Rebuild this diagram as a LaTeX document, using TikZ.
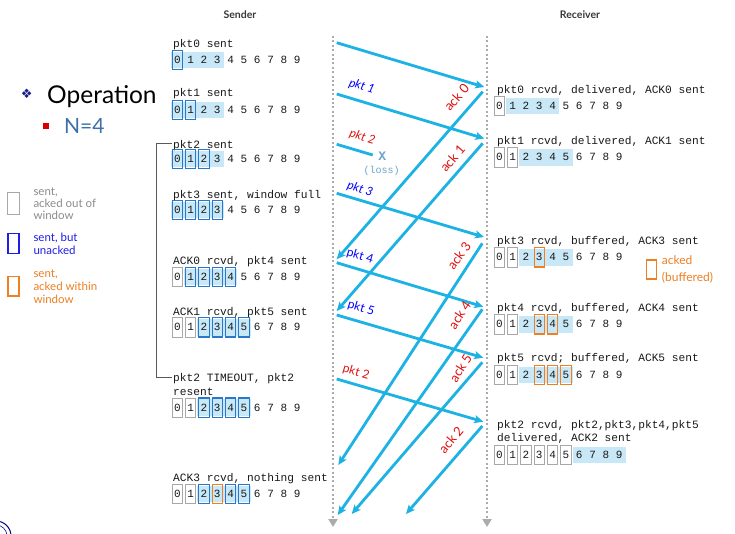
\documentclass[tikz,border=0pt]{standalone}
\usepackage{fontspec}
\setmainfont{Lato}
\newfontfamily\cour{Liberation Mono}
\newfontfamily\djv{DejaVu Sans}
\usetikzlibrary{arrows.meta}
\definecolor{arrowc}{HTML}{1CB2E3}
\definecolor{shadeb}{HTML}{C8E8F7}
\definecolor{winblue}{HTML}{2A78CC}
\definecolor{legblue}{HTML}{1E1EE6}
\definecolor{ackred}{HTML}{E01010}
\definecolor{orng}{HTML}{EE7F22}
\definecolor{grayb}{HTML}{A8A8A8}
\definecolor{legray}{HTML}{8C8C8C}
\definecolor{nblue}{HTML}{3D6FA8}
\definecolor{lossc}{HTML}{6FA3C8}
\definecolor{tlgray}{HTML}{ABABAB}
\definecolor{bulletc}{HTML}{1B1B8C}
\tikzset{
 digit/.style={font=\cour\fontsize{11}{13}\selectfont, inner sep=0pt, text=black!90},
 mono/.style={font=\cour\fontsize{11.2}{13.3}\selectfont, inner sep=0pt, anchor=base west, text=black!90},
 graybox/.style={draw=grayb, line width=1pt},
 bluebox/.style={draw=winblue, line width=1.1pt},
 orbox/.style={draw=orng, line width=1.1pt},
 msg/.style={draw=arrowc, line width=2.8pt, -{Stealth[length=9pt,width=8pt,inset=2pt]}},
 lostmsg/.style={draw=arrowc, line width=2.8pt},
 timeline/.style={draw=tlgray, line width=2pt, dash pattern=on 2pt off 2.4pt, -{Triangle[length=8pt,width=9pt]}},
 pktlbl/.style={font=\fontsize{12}{14}\selectfont, inner sep=0pt, rotate=-17},
 acklbl/.style={font=\fontsize{13}{15}\selectfont, inner sep=0pt, text=ackred},
 legtext/.style={font=\fontsize{11.5}{12}\selectfont, inner sep=0pt, anchor=base west},
 header/.style={font=\bfseries\fontsize{10.5}{12}\selectfont, text=black!78, inner sep=0pt},
 bracketline/.style={draw=black!65, line width=0.8pt},
}
\newcommand{\wrow}[8]{%
  \fill[shadeb] ({#2+(#4)*13.33-6.67},{#3-8.3}) rectangle ({#2+(#5)*13.33+6.67},{#3+8.3});
  \foreach \i in {0,...,9}{\node[digit] (#1-\i) at ({#2+\i*13.33},#3) {\i};}
  \foreach \i in {#6}{\ifnum\i>-1 \draw[graybox] ({#2+\i*13.33-5.2},{#3-9.7}) rectangle ({#2+\i*13.33+5.2},{#3+9.7});\fi}
  \foreach \i in {#7}{\ifnum\i>-1 \draw[bluebox] ({#2+\i*13.33-5.2},{#3-9.7}) rectangle ({#2+\i*13.33+5.2},{#3+9.7});\fi}
  \foreach \i in {#8}{\ifnum\i>-1 \draw[orbox] ({#2+\i*13.33-5.2},{#3-9.7}) rectangle ({#2+\i*13.33+5.2},{#3+9.7});\fi}
}
\begin{document}
\begin{tikzpicture}[x=1pt,y=-1pt]
\useasboundingbox (0,0) rectangle (735,533);
\fill[white] (0,0) rectangle (735,533);

% headers
\node[header] (hs) at (240,15) {Sender};
\node[header] (hr) at (580,15) {Receiver};

% timelines
\coordinate (sTop) at (333,36);
\coordinate (sBot) at (333,527);
\coordinate (rTop) at (487,36);
\coordinate (rBot) at (487,527);
\draw[timeline] (sTop) -- (sBot);
\draw[timeline] (rTop) -- (rBot);

% left title
\node[font=\djv\fontsize{13}{14}\selectfont, text=bulletc, inner sep=0pt] (bul) at (26.7,94) {❖};
\node[font=\fontsize{24.5}{28}\selectfont, inner sep=0pt, anchor=base west] (op) at (47,103) {Operation};
\fill[red!85!black] (42.7,123) rectangle (48.7,129);
\node[font=\fontsize{21}{24}\selectfont, text=nblue, inner sep=0pt, anchor=base west] (n4) at (64,133.5) {N=4};

% legend
\draw[graybox] (7.3,192.3) rectangle (19,214.3);
\node[legtext, text=legray] (lg1) at (33.3,195.8) {sent,};
\node[legtext, text=legray] (lg2) at (33.3,207.8) {acked out of};
\node[legtext, text=legray] (lg3) at (33.3,219.8) {window};
\draw[draw=legblue, line width=1.1pt] (8,233.3) rectangle (19,253.3);
\node[legtext, text=legblue] (lb1) at (33.3,241.8) {sent, but};
\node[legtext, text=legblue] (lb2) at (33.3,254.5) {unacked};
\draw[orbox] (8,276.7) rectangle (19,296);
\node[legtext, text=orng] (lo1) at (33.3,277.5) {sent,};
\node[legtext, text=orng] (lo2) at (33.3,290.8) {acked within};
\node[legtext, text=orng] (lo3) at (33.3,303.5) {window};

% logo fragment
\draw[blue!55!black, line width=1pt] (-4,536) circle (15);
\draw[blue!55!black, line width=0.6pt] (-4,536) circle (11);

% bracket
\coordinate (b1) at (172,143.3);
\coordinate (b2) at (156.7,143.3);
\coordinate (b3) at (156.7,377.7);
\coordinate (b4) at (172,377.7);
\draw[bracketline] (b1) -- (b2) -- (b3) -- (b4);

% sender texts
\node[mono] (st0) at (173,47.3) {pkt0 sent};
\node[mono] (st1) at (173,96.7) {pkt1 sent};
\node[mono] (st2) at (173,148) {pkt2 sent};
\node[mono] (st3) at (173,198) {pkt3 sent, window full};
\node[mono] (st4) at (173,264.7) {ACK0 rcvd, pkt4 sent};
\node[mono] (st5) at (173,315.7) {ACK1 rcvd, pkt5 sent};
\node[mono] (st6) at (173,381.7) {pkt2 TIMEOUT, pkt2};
\node[mono] (st6b) at (173,395) {resent};
\node[mono] (st7) at (173,481.7) {ACK3 rcvd, nothing sent};

\wrow{sw0}{177.3}{60}{0}{3}{-1}{0}{-1}
\wrow{sw1}{177.3}{110}{0}{3}{-1}{0,1}{-1}
\wrow{sw2}{177.3}{159}{0}{3}{-1}{0,1,2}{-1}
\wrow{sw3}{177.3}{210}{0}{3}{-1}{0,1,2,3}{-1}
\wrow{sw4}{177.3}{277}{1}{4}{0}{1,2,3,4}{-1}
\wrow{sw5}{177.3}{327.3}{2}{5}{0,1}{2,3,4,5}{-1}
\wrow{sw6}{177.3}{407.7}{2}{5}{0,1}{2,3,4,5}{-1}
\wrow{sw7}{177.3}{494}{2}{5}{0,1}{2,4,5}{3}

% receiver texts
\node[mono] (rt0) at (497,93.5) {pkt0 rcvd, delivered, ACK0 sent};
\node[mono] (rt1) at (497,144.2) {pkt1 rcvd, delivered, ACK1 sent};
\node[mono] (rt3) at (497,244.5) {pkt3 rcvd, buffered, ACK3 sent};
\node[mono] (rt4) at (497,311.8) {pkt4 rcvd, buffered, ACK4 sent};
\node[mono] (rt5) at (497,361.8) {pkt5 rcvd; buffered, ACK5 sent};
\node[mono] (rt2) at (497,428.5) {pkt2 rcvd, pkt2,pkt3,pkt4,pkt5};
\node[mono] (rt2b) at (497,441.8) {delivered, ACK2 sent};

\wrow{rw0}{499.3}{106}{1}{4}{0}{-1}{-1}
\wrow{rw1}{499.3}{157.3}{2}{5}{0,1}{-1}{-1}
\wrow{rw3}{499.3}{257.3}{2}{5}{0,1}{-1}{3}
\wrow{rw4}{499.3}{324.3}{2}{5}{0,1}{-1}{3,4}
\wrow{rw5}{499.3}{375}{2}{5}{0,1}{-1}{3,4,5}
\wrow{rw2}{499.3}{455}{6}{9}{0,1,2,3,4,5}{-1}{-1}

% acked (buffered) legend
\draw[orbox] (646.7,260) rectangle (656.7,279);
\node[legtext, text=orng, font=\fontsize{12}{13}\selectfont] (ab1) at (661.7,264.5) {acked};
\node[legtext, text=orng, font=\fontsize{12}{13}\selectfont] (ab2) at (661.7,281) {(buffered)};

% endpoints
\coordinate (p0s) at (336.7,42.7);  \coordinate (p0r) at (484.3,87);
\coordinate (p1s) at (336.7,94);    \coordinate (p1r) at (484.3,138.5);
\coordinate (p2s) at (336.7,144.3); \coordinate (p2x) at (372.7,155);
\coordinate (p3s) at (336.7,193.3); \coordinate (p3r) at (484,237);
\coordinate (a0r) at (482.7,91.7);  \coordinate (a0s) at (336.7,259.3);
\coordinate (a1r) at (482.7,143.3); \coordinate (a1s) at (336.7,311);
\coordinate (p4s) at (336.7,262.7); \coordinate (p4r) at (483.3,306.7);
\coordinate (p5s) at (336.7,315);   \coordinate (p5r) at (483.3,357.7);
\coordinate (a3r) at (482.3,243.3); \coordinate (a3s) at (338.3,465);
\coordinate (a4r) at (482.3,309.3); \coordinate (a4s) at (337.7,515);
\coordinate (a5r) at (482.3,362.3); \coordinate (a5s) at (351.7,514);
\coordinate (q2s) at (336.7,379);   \coordinate (q2r) at (483.3,421.7);
\coordinate (a2r) at (482.3,426);   \coordinate (a2s) at (406,514);

\draw[msg] (p0s) -- (p0r);
\draw[msg] (p1s) -- (p1r);
\draw[lostmsg] (p2s) -- (p2x);
\draw[msg] (p3s) -- (p3r);
\draw[msg] (a0r) -- (a0s);
\draw[msg] (a1r) -- (a1s);
\draw[msg] (p4s) -- (p4r);
\draw[msg] (p5s) -- (p5r);
\draw[msg] (a3r) -- (a3s);
\draw[msg] (a4r) -- (a4s);
\draw[msg] (a5r) -- (a5s);
\draw[msg] (q2s) -- (q2r);
\draw[msg] (a2r) -- (a2s);

% loss mark
\node[font=\cour\bfseries\fontsize{13}{14}\selectfont, text=lossc, inner sep=0pt] (lx) at (382.3,156) {X};
\node[font=\cour\fontsize{10}{12}\selectfont, text=lossc, inner sep=0pt] (ll) at (381.7,170.7) {(loss)};

% packet labels
\node[pktlbl, text=blue, font=\itshape\fontsize{12}{14}\selectfont] (lp1) at (361.7,86.7) {pkt 1};
\node[pktlbl, text=ackred, font=\itshape\fontsize{12}{14}\selectfont] (lp2) at (362.3,137.3) {pkt 2};
\node[pktlbl, text=blue, font=\itshape\fontsize{12}{14}\selectfont] (lp3) at (360,189.3) {pkt 3};
\node[pktlbl, text=blue] (lp4) at (360,256.7) {pkt 4};
\node[pktlbl, text=blue] (lp5) at (361,308.3) {pkt 5};
\node[pktlbl, text=ackred] (lq2) at (356,372.7) {pkt 2};

% ack labels
\node[acklbl, rotate=49] (la0) at (456.5,97.5) {ack 0};
\node[acklbl, rotate=49] (la1) at (452.5,158.5) {ack 1};
\node[acklbl, rotate=54] (la3) at (459,256) {ack 3};
\node[acklbl, rotate=57] (la4) at (459.5,315) {ack 4};
\node[acklbl, rotate=58] (la5) at (460.5,368) {ack 5};
\node[acklbl, rotate=50] (la2) at (451,440) {ack 2};
\end{tikzpicture}
\end{document}
